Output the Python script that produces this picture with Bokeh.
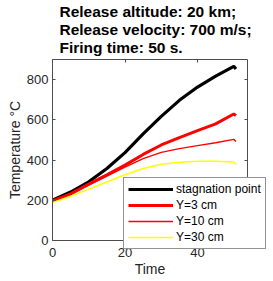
from bokeh.plotting import figure
from bokeh.models import (Legend, LegendItem, Label, LinearAxis, Range1d,
                          FixedTicker)
from bokeh.embed import file_html
from bokeh.resources import INLINE

# ---- data ----
time = [0, 5, 10, 15, 20, 25, 30, 35, 40, 45, 50, 50.6]
stagnation = [200, 241, 292, 358, 437, 530, 617, 697, 763, 817, 866, 853]
y3cm = [197, 232, 280, 326, 375, 428, 475, 512, 546, 580, 629, 621]
y10cm = [196, 230, 275, 320, 365, 407, 438, 457, 472, 486, 503, 492]
y30cm = [188, 220, 255, 291, 327, 358, 379, 389, 394, 394, 390, 377]
title_lines = ["Release altitude: 20 km;", "Release velocity: 700 m/s;",
               "Firing time: 50 s."]
x_ticks = [0, 20, 40]
y_ticks = [0, 200, 400, 600, 800]
x_lim = (0, 53.7)
y_lim = (0, 900)

FONT = "Liberation Sans"
TXT = "#262626"
BOX = "#4d4d4d"

W, H = 273, 281
# axes box placement inside the canvas (pixels)
box_left, box_right, box_top, box_bottom = 52, 246.7, 59, 240
xs = (box_right - box_left) / (x_lim[1] - x_lim[0])
ys = (box_bottom - box_top) / (y_lim[1] - y_lim[0])
x_range = Range1d(x_lim[0] - box_left / xs, x_lim[1] + (W - box_right) / xs)
y_range = Range1d(y_lim[0] - (H - box_bottom) / ys, y_lim[1] + box_top / ys)

p = figure(width=W, height=H, output_backend="svg", toolbar_location=None,
           x_range=x_range, y_range=y_range, min_border=0, title=None,
           x_axis_type=None, y_axis_type=None)
p.background_fill_color = "white"
p.border_fill_color = "white"
p.outline_line_color = None
p.grid.visible = False

l1 = p.line(time, stagnation, line_color="black", line_width=3.2)
l2 = p.line(time, y3cm, line_color="#ff0000", line_width=3)
l3 = p.line(time, y10cm, line_color="#ff0000", line_width=1.4)
l4 = p.line(time, y30cm, line_color="#ffff00", line_width=1.4)


def make_axis(ticks, bounds, loc, show_labels):
    a = LinearAxis(ticker=FixedTicker(ticks=ticks), bounds=bounds,
                   fixed_location=loc)
    a.major_tick_in = 3
    a.major_tick_out = 0
    a.minor_tick_line_color = None
    a.axis_line_color = BOX
    a.axis_line_width = 1
    a.major_tick_line_color = BOX
    if show_labels:
        a.major_label_text_font = FONT
        a.major_label_text_font_size = "13px"
        a.major_label_text_color = TXT
        a.axis_label_text_font = FONT
        a.axis_label_text_font_size = "14px"
        a.axis_label_text_font_style = "normal"
        a.axis_label_text_color = TXT
    else:
        a.major_label_text_color = None
    return a


xa = make_axis(x_ticks, x_lim, y_lim[0], True)
xa.axis_label = "Time"
xa.major_label_standoff = 7
xa.axis_label_standoff = 1
p.add_layout(xa, "below")

ya = make_axis(y_ticks, y_lim, x_lim[0], True)
ya.axis_label = "Temperature °C"
ya.major_label_standoff = 4
ya.axis_label_standoff = 1
p.add_layout(ya, "left")

p.add_layout(make_axis(x_ticks, x_lim, y_lim[1], False), "above")
p.add_layout(make_axis(y_ticks, y_lim, x_lim[1], False), "right")

# title lines (screen units from the canvas bottom-left)
for i, line in enumerate(title_lines):
    p.add_layout(Label(x=59, y=H - (11 + 18 * i),
                       x_units="screen", y_units="screen", text=line,
                       text_font=FONT, text_font_size="15.5px",
                       text_font_style="bold", text_color="black",
                       text_baseline="middle"))

legend = Legend(items=[
    LegendItem(label="stagnation point", renderers=[l1]),
    LegendItem(label="Y=3 cm", renderers=[l2]),
    LegendItem(label="Y=10 cm", renderers=[l3]),
    LegendItem(label="Y=30 cm", renderers=[l4]),
], location=(123, H - 249))
legend.label_text_font = FONT
legend.label_text_font_size = "12px"
legend.label_text_color = "black"
legend.glyph_width = 45
legend.glyph_height = 14
legend.label_height = 14
legend.label_standoff = 3
legend.spacing = 2
legend.padding = 4
legend.margin = 0
legend.border_line_color = "#262626"
legend.border_line_width = 1
legend.background_fill_alpha = 1
p.add_layout(legend, "center")

open("out.html", "w").write(file_html(p, INLINE))
